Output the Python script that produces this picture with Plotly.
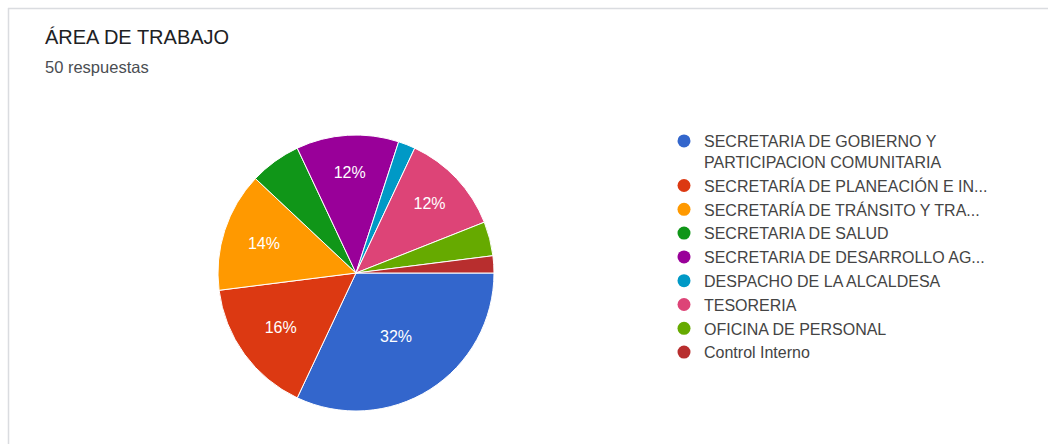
import plotly.graph_objects as go

W, H = 1048, 444

# Survey answers: "ÁREA DE TRABAJO" (50 responses)
categories = [
    "SECRETARIA DE GOBIERNO Y<br>PARTICIPACION COMUNITARIA",
    "SECRETARÍA DE PLANEACIÓN E IN...",
    "SECRETARÍA DE TRÁNSITO Y TRA...",
    "SECRETARIA DE SALUD",
    "SECRETARIA DE DESARROLLO AG...",
    "DESPACHO DE LA ALCALDESA",
    "TESORERIA",
    "OFICINA DE PERSONAL",
    "Control Interno",
]
responses = [16, 8, 7, 3, 6, 1, 6, 2, 1]
colors = ["#3366cc", "#dc3912", "#ff9900", "#109618", "#990099",
          "#0099c6", "#dd4477", "#66aa00", "#b82e2e"]

total = sum(responses)
# Only slices of at least 10% carry a percentage label
labels_in = [f"{round(v / total * 100)}%" if v / total >= 0.10 else "" for v in responses]

FONT = "Arial, Liberation Sans, sans-serif"


def px_x(x):
    return x / W


def px_y(y):
    return 1 - y / H


fig = go.Figure()

fig.add_trace(go.Pie(
    labels=categories,
    values=responses,
    text=labels_in,
    textinfo="text",
    textposition="inside",
    insidetextorientation="horizontal",
    textfont=dict(color="white", size=16, family=FONT),
    marker=dict(colors=colors, line=dict(color="white", width=1)),
    sort=False,
    direction="clockwise",
    rotation=90,
    showlegend=False,
    hoverinfo="label+percent",
    domain=dict(x=[px_x(218), px_x(494)], y=[px_y(411), px_y(135)]),
))

# Legend entries with round markers, one per category
for i, (name, col) in enumerate(zip(categories, colors)):
    fig.add_trace(go.Scatter(
        x=[None], y=[None], mode="markers", name=name,
        marker=dict(color=col, size=13, symbol="circle"),
        legendgroup=f"g{i}", showlegend=True, hoverinfo="skip",
    ))

fig.update_layout(
    width=W, height=H,
    margin=dict(l=0, r=0, t=0, b=0),
    paper_bgcolor="white",
    plot_bgcolor="white",
    xaxis=dict(visible=False),
    yaxis=dict(visible=False),
    legend=dict(
        x=px_x(664), y=px_y(124), xanchor="left", yanchor="top",
        font=dict(size=16, color="#444444", family=FONT),
        tracegroupgap=0,
        valign="top",
        itemclick=False, itemdoubleclick=False,
        bgcolor="rgba(0,0,0,0)",
    ),
    annotations=[
        dict(text="ÁREA DE TRABAJO", x=px_x(43), y=px_y(37), xref="paper", yref="paper",
             xanchor="left", yanchor="middle", showarrow=False,
             font=dict(size=20, color="#202124", family=FONT)),
        dict(text="50 respuestas", x=px_x(43), y=px_y(67), xref="paper", yref="paper",
             xanchor="left", yanchor="middle", showarrow=False,
             font=dict(size=16.5, color="#4a4d52", family=FONT)),
    ],
    shapes=[
        dict(type="line", xref="paper", yref="paper", x0=px_x(8), x1=1, y0=px_y(8.5), y1=px_y(8.5),
             line=dict(color="#dadce0", width=1.5)),
        dict(type="line", xref="paper", yref="paper", x0=px_x(8.5), x1=px_x(8.5), y0=0, y1=px_y(8),
             line=dict(color="#dadce0", width=1.5)),
    ],
)

fig.write_html("out.html")
